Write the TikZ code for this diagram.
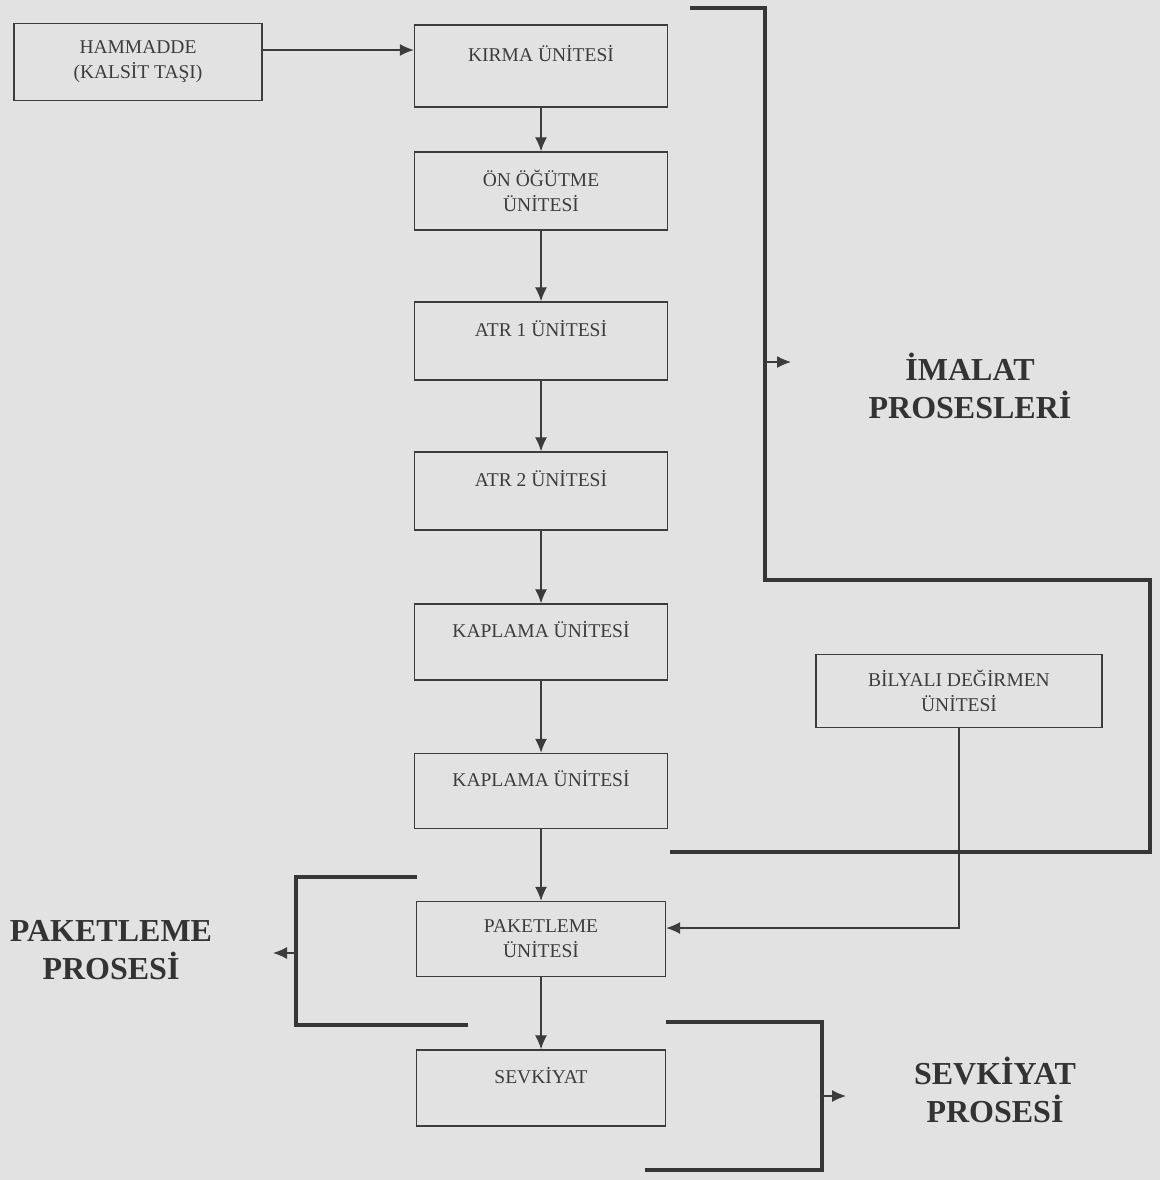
\documentclass[tikz,border=0pt]{standalone}
\usepackage{fontspec}
\setmainfont{Liberation Serif}
\usetikzlibrary{arrows.meta}
\definecolor{fond}{RGB}{226,226,226}
\definecolor{encre}{RGB}{60,60,60}
\begin{document}
\begin{tikzpicture}[x=1pt,y=-1pt]
\tikzset{boite/.style={draw=encre, line width=1.4pt, text=encre, minimum width=253pt, minimum height=78pt, inner sep=0pt, align=center, font=\fontsize{19.5}{25}\selectfont},
fleche/.style={draw=encre, line width=1.3pt, -{Latex[length=14pt,width=12pt]}},
epais/.style={draw=encre!90!black, line width=4pt, line join=miter},
titre/.style={text=encre!85!black, align=center, font=\fontsize{32}{38}\selectfont\bfseries}}
\fill[fond] (0,0) rectangle (1160,1180);
\node[boite, minimum width=248pt, minimum height=77pt] (H) at (138,62) {HAMMADDE\\(KALSİT TAŞI)};
\node[boite, minimum height=82pt] (K) at (541,66) {KIRMA ÜNİTESİ\\~};
\node[boite] (O) at (541,191) {ÖN ÖĞÜTME\\ÜNİTESİ};
\node[boite] (A1) at (541,341) {ATR 1 ÜNİTESİ\\~};
\node[boite] (A2) at (541,491) {ATR 2 ÜNİTESİ\\~};
\node[boite, minimum height=76pt] (K1) at (541,642) {KAPLAMA ÜNİTESİ\\~};
\node[boite, minimum height=75pt] (K2) at (541,791) {KAPLAMA ÜNİTESİ\\~};
\node[boite, minimum width=249pt, minimum height=75pt] (P) at (541,939) {PAKETLEME\\ÜNİTESİ};
\node[boite, minimum width=249pt, minimum height=76pt] (S) at (541,1088) {SEVKİYAT\\~};
\node[boite, minimum width=286pt, minimum height=73pt] (B) at (959,691) {BİLYALI DEĞİRMEN\\ÜNİTESİ};
\draw[fleche] ([yshift=12pt]H.east) -- ([yshift=16pt]K.west);
\draw[fleche] (K) -- (O);
\draw[fleche] (O) -- (A1);
\draw[fleche] (A1) -- (A2);
\draw[fleche] (A2) -- (K1);
\draw[fleche] (K1) -- (K2);
\draw[fleche] (K2) -- (P);
\draw[fleche] (P) -- (S);
\draw[fleche] (B.south) |- ([yshift=11pt]P.east);
% imalat
\draw[epais] (690,8) -- (765,8) -- (765,580) -- (1150,580) -- (1150,852) -- (670,852);
\coordinate (I) at (765,362);
\draw[fleche] (I) -- ++(26,0);
\node[titre] (IT) at (970,386) {İMALAT\\PROSESLERİ};
% paketleme
\draw[epais] (417,877) -- (296,877) -- (296,1025) -- (468,1025);
\coordinate (Pk) at (296,953);
\draw[fleche] (Pk) -- ++(-23,0);
\node[titre] (PT) at (111,950) {PAKETLEME\\PROSESİ};
% sevkiyat
\draw[epais] (666,1022) -- (822,1022) -- (822,1170) -- (645,1170);
\coordinate (Sv) at (822,1096);
\draw[fleche] (Sv) -- ++(24,0);
\node[titre] (ST) at (995,1090) {SEVKİYAT\\PROSESİ};
\end{tikzpicture}
\end{document}
